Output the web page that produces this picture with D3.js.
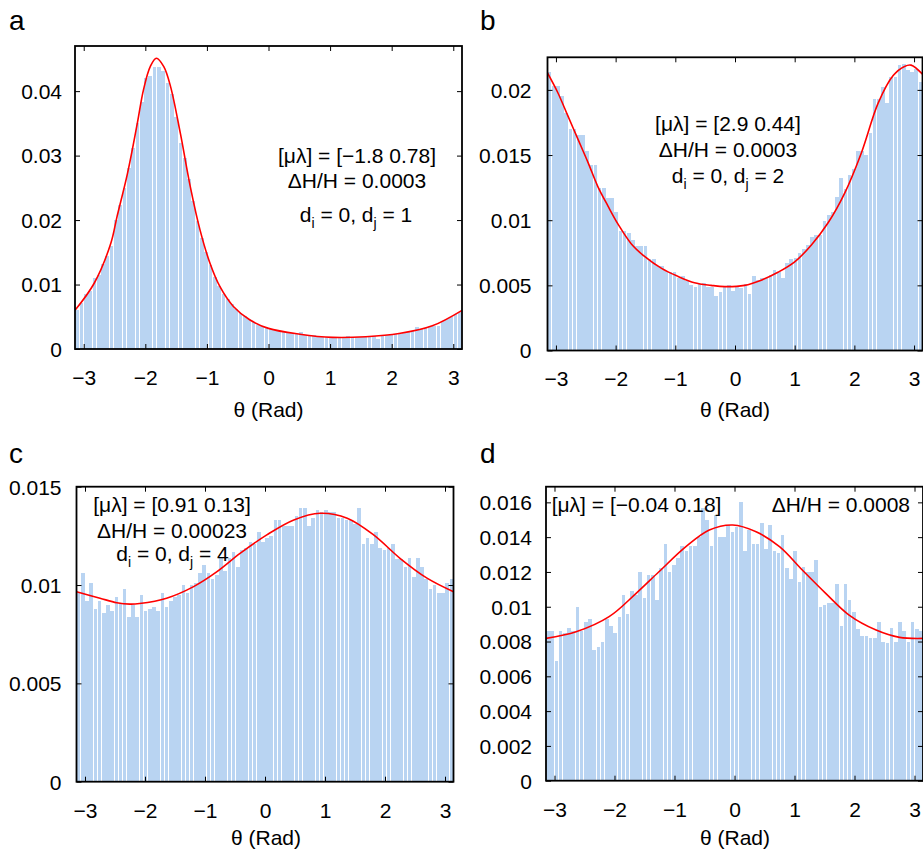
<!DOCTYPE html>
<html><head><meta charset="utf-8">
<script src="https://cdn.jsdelivr.net/npm/d3@7"></script>
<style>
html,body{margin:0;padding:0;background:#fff;}
svg{display:block;}
text{font-family:"Liberation Sans",Arial,sans-serif;fill:#000;}
</style></head>
<body><div id="chart"></div>
<script>
const PI = Math.PI;
const xTicks = [-3,-2,-1,0,1,2,3];
const panelLetters = ["a","b","c","d"];

// ---- panel a ----
const aBars = [0.0060,0.0072,0.0085,0.0090,0.0110,0.0115,0.0132,0.0145,0.0160,0.0200,
0.0224,0.0250,0.0280,0.0312,0.0350,0.0383,0.0420,0.0423,0.0438,0.0438,
0.0431,0.0412,0.0396,0.0360,0.0320,0.0296,0.0264,0.0230,0.0198,0.0172,
0.0150,0.0130,0.0112,0.0098,0.0086,0.0077,0.0070,0.0062,0.0056,0.0051,
0.0046,0.0042,0.0038,0.0035,0.0034,0.0031,0.0029,0.0028,0.0027,0.0025,
0.0025,0.0024,0.0026,0.0022,0.0021,0.0021,0.0019,0.0019,0.0018,0.0019,
0.0018,0.0018,0.0017,0.0020,0.0018,0.0018,0.0019,0.0019,0.0019,0.0020,
0.0016,0.0021,0.0022,0.0023,0.0023,0.0024,0.0025,0.0026,0.0028,0.0034,
0.0031,0.0032,0.0034,0.0036,0.0035,0.0043,0.0047,0.0050,0.0054,0.0058];
const aCurveX = [-3.1416,-2.83,-2.56,-2.46,-2.29,-2.13,-2.03,-1.92,-1.82,-1.70,-1.59,-1.43,-1.27,-1.11,-0.95,-0.79,-0.57,-0.30,0,0.51,1.04,1.58,2.12,2.66,3.1416];
const aCurveY = [0.0060,0.0102,0.0164,0.0205,0.0272,0.0350,0.0402,0.0438,0.0451,0.0438,0.0407,0.0334,0.0252,0.0184,0.0133,0.0097,0.0066,0.0045,0.0032,0.0023,0.0018,0.0019,0.0024,0.0036,0.0060];
const aYTicks = [0,0.01,0.02,0.03,0.04];

// ---- panel b ----
const bBars = [0.0214,0.0203,0.0203,0.0195,0.0182,0.0170,0.0170,0.0165,0.0165,0.0153,
0.0142,0.0142,0.0125,0.0125,0.0117,0.0117,0.0106,0.0092,0.0092,0.0090,
0.0085,0.0080,0.0080,0.0080,0.0070,0.0070,0.0065,0.0065,0.0061,0.0060,
0.0060,0.0056,0.0057,0.0053,0.0050,0.0049,0.0051,0.0052,0.0049,0.0049,
0.0042,0.0045,0.0049,0.0050,0.0046,0.0049,0.0048,0.0051,0.0043,0.0057,
0.0054,0.0056,0.0056,0.0058,0.0062,0.0060,0.0056,0.0067,0.0070,0.0071,
0.0075,0.0078,0.0081,0.0087,0.0089,0.0089,0.0099,0.0104,0.0106,0.0118,
0.0132,0.0124,0.0135,0.0139,0.0153,0.0153,0.0150,0.0167,0.0193,0.0193,
0.0202,0.0190,0.0210,0.0210,0.0219,0.0220,0.0215,0.0214,0.0216,0.0206];
const bCurveX = [-3.1416,-2.97,-2.80,-2.63,-2.46,-2.30,-2.13,-1.96,-1.74,-1.51,-1.23,-0.96,-0.68,-0.40,-0.17,0.16,0.44,0.72,1.00,1.28,1.56,1.84,2.12,2.40,2.65,2.84,2.95,3.1416];
const bCurveY = [0.0213,0.0198,0.0180,0.0162,0.0144,0.0126,0.0111,0.0097,0.0082,0.0072,0.0063,0.0057,0.0052,0.0050,0.0049,0.0050,0.0054,0.0060,0.0068,0.0081,0.0098,0.0121,0.0152,0.0190,0.0211,0.0218,0.0219,0.0212];
const bYTicks = [0,0.005,0.01,0.015,0.02];

// ---- panel c ----
const cBars = [0.0096,0.0106,0.0092,0.0101,0.0088,0.0092,0.0086,0.0090,0.0087,0.0094,
0.0091,0.0098,0.0084,0.0090,0.0084,0.0095,0.0087,0.0088,0.0089,0.0087,
0.0096,0.0089,0.0092,0.0094,0.0095,0.0100,0.0096,0.0100,0.0101,0.0106,
0.0110,0.0106,0.0103,0.0105,0.0114,0.0107,0.0114,0.0117,0.0109,0.0118,
0.0119,0.0122,0.0121,0.0127,0.0122,0.0124,0.0125,0.0133,0.0133,0.0130,
0.0130,0.0130,0.0135,0.0139,0.0139,0.0130,0.0134,0.0138,0.0137,0.0138,
0.0137,0.0137,0.0134,0.0134,0.0133,0.0133,0.0131,0.0139,0.0121,0.0124,
0.0121,0.0127,0.0119,0.0118,0.0119,0.0121,0.0113,0.0113,0.0109,0.0114,
0.0104,0.0114,0.0109,0.0103,0.0098,0.0100,0.0096,0.0096,0.0101,0.0103];
const cCurveX = [-3.1416,-2.75,-2.47,-2.25,-2.09,-1.64,-1.19,-0.80,-0.41,0.03,0.48,0.92,1.37,1.81,2.25,2.70,3.1416];
const cCurveY = [0.00966,0.00933,0.00910,0.00903,0.00906,0.00933,0.00992,0.01068,0.01162,0.01255,0.01331,0.01365,0.01340,0.01255,0.01136,0.01035,0.00966];
const cYTicks = [0,0.005,0.01,0.015];

// ---- panel d ----
const dBars = [0.0086,0.0086,0.0069,0.0086,0.0085,0.0088,0.0086,0.0100,0.0086,0.0091,
0.0093,0.0075,0.0077,0.0080,0.0093,0.0089,0.0085,0.0094,0.0107,0.0096,
0.0109,0.0107,0.0120,0.0105,0.0118,0.0118,0.0104,0.0122,0.0136,0.0120,
0.0124,0.0128,0.0135,0.0132,0.0135,0.0135,0.0140,0.0157,0.0150,0.0135,
0.0153,0.0140,0.0140,0.0147,0.0143,0.0146,0.0160,0.0132,0.0144,0.0136,
0.0136,0.0148,0.0133,0.0147,0.0132,0.0131,0.0141,0.0122,0.0116,0.0132,
0.0114,0.0123,0.0120,0.0120,0.0127,0.0100,0.0101,0.0102,0.0102,0.0113,
0.0089,0.0113,0.0104,0.0097,0.0087,0.0083,0.0083,0.0082,0.0082,0.0091,
0.0080,0.0079,0.0088,0.0080,0.0091,0.0086,0.0080,0.0091,0.0087,0.0086];
const dCurveX = [-3.1416,-2.64,-2.09,-1.64,-1.26,-0.81,-0.42,-0.03,0.36,0.75,1.13,1.52,1.91,2.36,2.75,3.1416];
const dCurveY = [0.00818,0.00856,0.00943,0.01077,0.01201,0.01345,0.01441,0.01470,0.01431,0.01345,0.01211,0.01077,0.00952,0.00866,0.00824,0.00818];
const dYTicks = [0,0.002,0.004,0.006,0.008,0.01,0.012,0.014,0.016];

const panels = [
 {letter:panelLetters[0], lx:9, ly:30, x0:75, x1:462, yb:349, yt:46, ymax:0.047, ticks:aYTicks, pad:13,
  bars:aBars, cx:aCurveX, cy:aCurveY, labelX:268.5, labelY:417,
  notes:[{x:357,y:162.7,anchor:"middle",t:"[μλ] = [−1.8 0.78]"},{x:357,y:188.3,anchor:"middle",t:"ΔH/H = 0.0003"},{x:356,y:221.7,anchor:"middle",sub:["0","1"]}]},
 {letter:panelLetters[1], lx:480, ly:30, x0:547.5, x1:922.5, yb:350.5, yt:57.3, ymax:0.0225, ticks:bYTicks, pad:16,
  bars:bBars, cx:bCurveX, cy:bCurveY, labelX:735, labelY:417,
  notes:[{x:728,y:130.7,anchor:"middle",t:"[μλ] = [2.9 0.44]"},{x:728,y:157.3,anchor:"middle",t:"ΔH/H = 0.0003"},{x:728,y:183.3,anchor:"middle",sub:["0","2"]}]},
 {letter:panelLetters[2], lx:9, ly:463, x0:76.5, x1:453.5, yb:781.7, yt:486.7, ymax:0.015, ticks:cYTicks, pad:15,
  bars:cBars, cx:cCurveX, cy:cCurveY, labelX:266, labelY:845,
  notes:[{x:172,y:511.7,anchor:"middle",t:"[μλ] = [0.91 0.13]"},{x:172,y:538.3,anchor:"middle",t:"ΔH/H = 0.00023"},{x:172.5,y:561,anchor:"middle",sub:["0","4"]}]},
 {letter:panelLetters[3], lx:480, ly:463, x0:546, x1:923, yb:780.7, yt:486.7, ymax:0.0169, ticks:dYTicks, pad:14,
  bars:dBars, cx:dCurveX, cy:dCurveY, labelX:735, labelY:845,
  notes:[{x:551.7,y:511.7,anchor:"start",t:"[μλ] = [−0.04 0.18]"},{x:910,y:511.7,anchor:"end",t:"ΔH/H = 0.0008"}]}
];

const svg = d3.select("#chart").append("svg").attr("width",923).attr("height",851);
const fmtY = v => v===0 ? "0" : String(+v.toFixed(4));

panels.forEach((p,pi) => {
  const x = d3.scaleLinear().domain([-PI,PI]).range([p.x0,p.x1]);
  const y = d3.scaleLinear().domain([0,p.ymax]).range([p.yb,p.yt]);
  const g = svg.append("g");
  const clipId = "clip"+pi;
  g.append("clipPath").attr("id",clipId).append("rect")
    .attr("x",p.x0).attr("y",p.yt).attr("width",p.x1-p.x0).attr("height",p.yb-p.yt);
  const n = p.bars.length, bw = 2*PI/n;
  const plot = g.append("g").attr("clip-path",`url(#${clipId})`);
  plot.selectAll("rect.bar").data(p.bars).join("rect").attr("class","bar")
    .attr("x",(d,i)=>x(-PI+i*bw)+0.3)
    .attr("width",(d,i)=>x(-PI+(i+1)*bw)-x(-PI+i*bw)-0.6)
    .attr("y",d=>y(d)).attr("height",d=>p.yb-y(d))
    .attr("fill","#b9d4f2").attr("shape-rendering","crispEdges");
  const pts = p.cx.map((v,i)=>[v,p.cy[i]]);
  plot.append("path").datum(pts)
    .attr("d", d3.line().x(d=>x(d[0])).y(d=>y(d[1])).curve(d3.curveCatmullRom.alpha(0.5)))
    .attr("fill","none").attr("stroke","#ff0000").attr("stroke-width",1.6);

  // axes
  const ax = g.append("g").attr("transform",`translate(0,${p.yb})`)
    .call(d3.axisBottom(x).tickValues(xTicks).tickSize(-5).tickPadding(21).tickFormat(d3.format("d")));
  const at = g.append("g").attr("transform",`translate(0,${p.yt})`)
    .call(d3.axisTop(x).tickValues(xTicks).tickSize(-5).tickFormat(""));
  const al = g.append("g").attr("transform",`translate(${p.x0},0)`)
    .call(d3.axisLeft(y).tickValues(p.ticks).tickSize(-5).tickPadding(p.pad).tickFormat(fmtY));
  const ar = g.append("g").attr("transform",`translate(${p.x1},0)`)
    .call(d3.axisRight(y).tickValues(p.ticks).tickSize(-5).tickFormat(""));
  [ax,at,al,ar].forEach(a=>{
    a.select(".domain").remove();
    a.selectAll("line").attr("stroke","#000").attr("stroke-width",1);
    a.selectAll("text").attr("font-size",21).attr("font-family","Liberation Sans, Arial, sans-serif");
  });
  al.selectAll("text").attr("dy","0.35em");
  g.append("rect").attr("x",p.x0).attr("y",p.yt).attr("width",p.x1-p.x0).attr("height",p.yb-p.yt)
    .attr("fill","none").attr("stroke","#000").attr("stroke-width",1.8);

  g.append("text").attr("x",p.labelX).attr("y",p.labelY).attr("text-anchor","middle")
    .attr("font-size",21).text("θ (Rad)");
  g.append("text").attr("x",p.lx).attr("y",p.ly).attr("font-size",28).text(p.letter);

  p.notes.forEach(nt=>{
    const t = g.append("text").attr("x",nt.x).attr("y",nt.y).attr("text-anchor",nt.anchor).attr("font-size",21);
    if (nt.sub) {
      t.append("tspan").text("d");
      t.append("tspan").attr("font-size",14).attr("dy",6).text("i");
      t.append("tspan").attr("dy",-6).text(" = "+nt.sub[0]+", d");
      t.append("tspan").attr("font-size",14).attr("dy",6).text("j");
      t.append("tspan").attr("dy",-6).text(" = "+nt.sub[1]);
    } else t.text(nt.t);
  });
});
</script></body></html>
